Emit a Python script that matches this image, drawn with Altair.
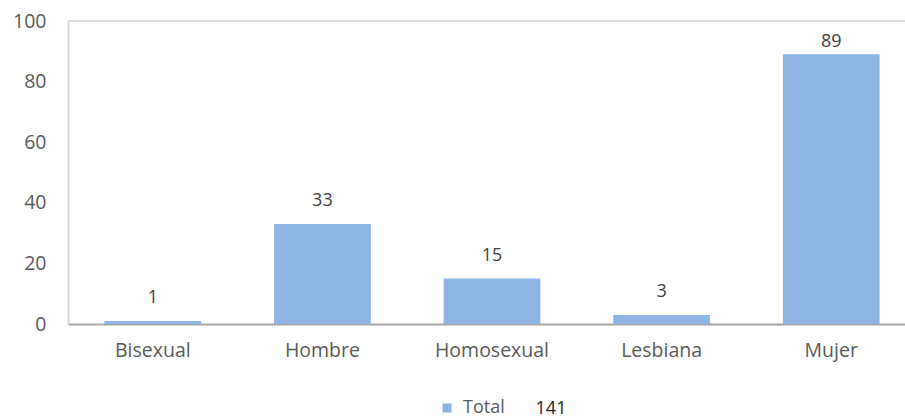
import altair as alt
import pandas as pd

categories = ["Bisexual", "Hombre", "Homosexual", "Lesbiana", "Mujer"]
values = [1, 33, 15, 3, 89]
series_name = "Total"
y_ticks = [0, 20, 40, 60, 80, 100]

df = pd.DataFrame({"cat": categories, "v": values, "s": [series_name] * len(categories)})

FONT = "Open Sans"
x_scale = alt.Scale(domain=categories, range=[0, 848], paddingInner=0.43, paddingOuter=0.215)
y_scale = alt.Scale(domain=[0, 100], nice=False)

bars = alt.Chart(df).mark_bar(color="#8DB4E2").encode(
    x=alt.X("cat:N", scale=x_scale, sort=categories, title=None,
            axis=alt.Axis(labelAngle=0, labelFont=FONT, labelFontSize=19.5, labelColor="#595959",
                          labelPadding=17, ticks=False, domainColor="#A6A6A6", domainWidth=2)),
    y=alt.Y("v:Q", scale=y_scale, title=None,
            axis=alt.Axis(values=y_ticks, grid=False, ticks=False, labelFont=FONT, labelFontSize=19.5,
                          labelColor="#595959", labelPadding=22, domainColor="#D9D9D9", domainWidth=2)),
    color=alt.Color("s:N", scale=alt.Scale(domain=[series_name], range=["#8DB4E2"]),
                    legend=alt.Legend(orient="none", legendX=370, legendY=378, title=None,
                                      symbolType="square", symbolSize=80, labelFont=FONT,
                                      labelFontSize=18, labelColor="#595959", labelOffset=7)),
)

labels = alt.Chart(df).transform_calculate(
    ly="min(datum.v + 7.5, 93)"
).mark_text(font=FONT, fontSize=18, color="#404040", baseline="middle").encode(
    x=alt.X("cat:N", scale=x_scale, sort=categories),
    y=alt.Y("ly:Q", scale=y_scale),
    text="v:Q",
)

top_border = alt.Chart(df).mark_rule(color="#D9D9D9", strokeWidth=2).encode(
    x=alt.value(0), x2=alt.value(837), y=alt.value(0)
)

total_text = alt.Chart(df).transform_aggregate(total="sum(v)").mark_text(
    font=FONT, fontSize=18, color="#262626", baseline="middle", align="center"
).encode(
    x=alt.value(483), y=alt.value(388), text="total:Q"
)

chart = alt.layer(top_border, bars, labels, total_text).properties(
    width=837, height=303,
    autosize=alt.AutoSizeParams(type="none"),
    padding={"left": 68, "top": 21, "right": 0, "bottom": 95},
).configure_view(stroke=None).configure(background="white")

chart.save("out.html", embed_options={"renderer": "svg", "actions": False})
